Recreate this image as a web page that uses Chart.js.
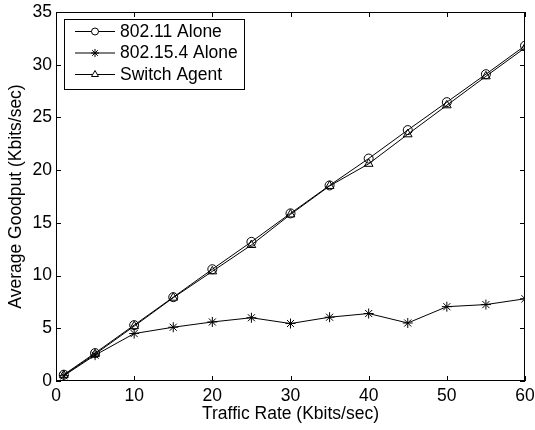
<!DOCTYPE html>
<html>
<head>
<meta charset="utf-8">
<script src="https://cdn.jsdelivr.net/npm/chart.js@4"></script>
<style>
  html, body { margin: 0; padding: 0; background: #fff; }
  #wrap { width: 535px; height: 430px; }
</style>
</head>
<body>
<div id="wrap"><canvas id="goodput"></canvas></div>
<script>
const rates = [1, 5, 10, 15, 20, 25, 30, 35, 40, 45, 50, 55, 60];
const wifiAlone = [0.6, 2.65, 5.3, 7.95, 10.6, 13.2, 15.9, 18.55, 21.1, 23.8, 26.45, 29.1, 31.8];
const zigbeeAlone = [0.5, 2.45, 4.5, 5.1, 5.6, 6.0, 5.45, 6.05, 6.4, 5.5, 7.05, 7.25, 7.8];
const switchAgent = [0.55, 2.55, 5.2, 7.9, 10.4, 12.9, 15.8, 18.5, 20.6, 23.4, 26.15, 28.9, 31.6];
const xTicks = [0, 10, 20, 30, 40, 50, 60];
const yTicks = [0, 5, 10, 15, 20, 25, 30, 35];

const FONT = 'Liberation Sans, Arial, Helvetica, sans-serif';
const FS = 17.5;

function series(label, values, style, radius) {
  return {
    label: label,
    data: rates.map((r, i) => ({ x: r, y: values[i] })),
    borderColor: '#000',
    borderWidth: 1,
    pointStyle: style,
    pointRadius: radius,
    pointBorderColor: '#000',
    pointBackgroundColor: 'rgba(0,0,0,0)',
    pointBorderWidth: 1,
    tension: 0
  };
}

// MATLAB style: inward ticks on all four sides and a legend box inside the axes
const matlabBox = {
  id: 'matlabBox',
  afterDraw(chart) {
    const ctx = chart.ctx, a = chart.chartArea;
    const xs = chart.scales.x, ys = chart.scales.y;
    ctx.save();
    ctx.strokeStyle = '#000';
    ctx.lineWidth = 1;
    ctx.strokeRect(a.left + 0.5, a.top + 0.5, a.right - a.left - 1, a.bottom - a.top - 1);
    ctx.beginPath();
    xTicks.forEach(v => {
      const px = Math.round(xs.getPixelForValue(v)) + 0.5;
      ctx.moveTo(px, a.bottom); ctx.lineTo(px, a.bottom - 5);
      ctx.moveTo(px, a.top); ctx.lineTo(px, a.top + 5);
    });
    yTicks.forEach(v => {
      const py = Math.round(ys.getPixelForValue(v)) + 0.5;
      ctx.moveTo(a.left, py); ctx.lineTo(a.left + 5, py);
      ctx.moveTo(a.right, py); ctx.lineTo(a.right - 5, py);
    });
    ctx.stroke();

    // legend
    const lx = a.left + 8, ly = a.top + 7, lw = 180, lh = 70;
    ctx.fillStyle = '#fff';
    ctx.fillRect(lx, ly, lw, lh);
    ctx.strokeRect(lx + 0.5, ly + 0.5, lw, lh);
    ctx.font = FS + 'px ' + FONT;
    ctx.textBaseline = 'middle';
    chart.data.datasets.forEach((ds, i) => {
      const y = ly + 12 + i * 21.5;
      ctx.beginPath();
      ctx.moveTo(lx + 11, y + 0.5); ctx.lineTo(lx + 51, y + 0.5);
      ctx.stroke();
      ctx.fillStyle = '#fff';
      Chart.helpers.drawPoint(ctx, {
        pointStyle: ds.pointStyle, radius: ds.pointRadius - 1, borderWidth: 1
      }, lx + 31, y + 0.5);
      ctx.fillStyle = '#000';
      ctx.fillText(ds.label, lx + 56, y + 1);
    });
    ctx.restore();
  }
};

new Chart(document.getElementById('goodput'), {
  type: 'line',
  data: {
    datasets: [
      series('802.11 Alone', wifiAlone, 'circle', 4.5),
      series('802.15.4 Alone', zigbeeAlone, 'star', 5),
      series('Switch Agent', switchAgent, 'triangle', 5)
    ]
  },
  options: {
    responsive: true,
    maintainAspectRatio: false,
    animation: false,
    layout: { padding: { top: 12, right: 10, left: 6, bottom: 5 } },
    plugins: { legend: { display: false }, tooltip: { enabled: false } },
    scales: {
      x: {
        type: 'linear',
        min: 0, max: 60,
        afterBuildTicks: s => { s.ticks = xTicks.map(v => ({ value: v })); },
        afterFit: s => { s.height = 44; s.paddingLeft = 0; s.paddingRight = 0; },
        grid: { display: false, drawTicks: false },
        border: { display: false },
        ticks: { color: '#000', font: { family: FONT, size: FS }, padding: 5, maxRotation: 0 },
        title: { display: true, text: 'Traffic Rate (Kbits/sec)', color: '#000',
                 font: { family: FONT, size: FS }, padding: { top: 0, bottom: 0 } }
      },
      y: {
        type: 'linear',
        min: 0, max: 35,
        afterBuildTicks: s => { s.ticks = yTicks.map(v => ({ value: v })); },
        afterFit: s => { s.width = 50; s.paddingTop = 0; s.paddingBottom = 0; },
        grid: { display: false, drawTicks: false },
        border: { display: false },
        ticks: { color: '#000', font: { family: FONT, size: FS }, padding: 4 },
        title: { display: true, text: 'Average Goodput (Kbits/sec)', color: '#000',
                 font: { family: FONT, size: FS }, padding: { top: 0, bottom: 0 } }
      }
    }
  },
  plugins: [matlabBox]
});
</script>
</body>
</html>
